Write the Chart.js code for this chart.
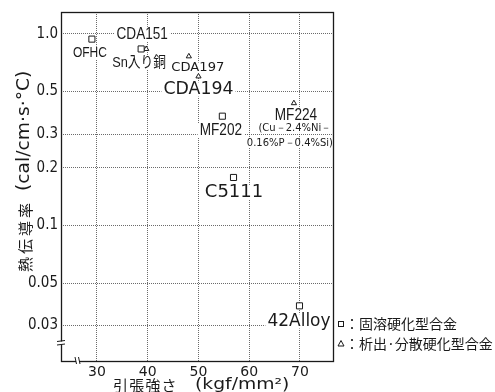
<!DOCTYPE html>
<html><head><meta charset="utf-8">
<script src="https://cdn.jsdelivr.net/npm/chart.js@4/dist/chart.umd.min.js"></script>
<style>html,body{margin:0;padding:0;background:#fff}canvas{display:block}</style>
</head><body>
<canvas id="c" width="495" height="392"></canvas>
<script>
// ---- data ----
const squareNames = ['OFHC', 'Sn入り銅', 'MF202', 'C5111', '42Alloy'];
const squareStrength = [29.0, 38.7, 54.7, 56.9, 69.9];
const squareConductivity = [0.94, 0.835, 0.372, 0.178, 0.038];
const triangleNames = ['CDA151', 'CDA197', 'CDA194', 'MF224'];
const triangleStrength = [39.7, 48.1, 50.0, 68.8];
const triangleConductivity = [0.835, 0.764, 0.60, 0.435];
const mf224Note = ['(Cu－2.4%Ni－', '0.16%P－0.4%Si)'];
const xTicks = [30, 40, 50, 60, 70];
const yTicks = [0.03, 0.05, 0.1, 0.2, 0.3, 0.5, 1.0];
const legendLabels = ['：固溶硬化型合金', '：析出·分散硬化型合金'];
const xTitle = ['引張強さ', '(kgf/mm²)'];
const yTitle = ['熱伝導率', '(cal/cm·s·°C)'];

// ---- styles ----
const COND = '"DejaVu Sans Condensed","DejaVu Sans",sans-serif';
const LIB = '"Liberation Sans",sans-serif';
const WIDE = '"DejaVu Sans",sans-serif';
const CJK = '"Noto Sans CJK JP",sans-serif';
const INK = '#1a1a1a';
const labelStyle = {
  'OFHC':    {dx: -2,  dy: 14,   font: '15px ' + LIB, sx: 0.8},
  'Sn入り銅': {dx: -2,  dy: 14,   font: '15px "Liberation Sans","Noto Sans CJK JP",sans-serif', sx: 0.85},
  'MF202':   {dx: -1.5,dy: 14.5, font: '17px ' + LIB, sx: 0.8},
  'C5111':   {dx: 0.5, dy: 15,   font: '18px ' + WIDE, sx: 1},
  '42Alloy': {dx: -0.5,dy: 15.5, font: '17px ' + WIDE, sx: 1},
  'CDA151':  {dx: -4,  dy: -15,  font: '17px ' + LIB, sx: 0.8},
  'CDA197':  {dx: 9,   dy: 11.5, font: '12.5px ' + WIDE, sx: 1.05},
  'CDA194':  {dx: 0,   dy: 13,   font: '17px ' + WIDE, sx: 1.02},
  'MF224':   {dx: 2,   dy: 12.5, font: '17px ' + LIB, sx: 0.8}
};
const noteStyle = [{dx: 1, dy: 25.5}, {dx: -4, dy: 40.5}];

function pts(xs, ys) { return xs.map((x, i) => ({x: x, y: ys[i]})); }

function drawLabel(ctx, text, x, y, font, sx) {
  ctx.save();
  ctx.font = font;
  const w = ctx.measureText(text).width * sx;
  const fs = parseFloat(font);
  ctx.fillStyle = '#fff';
  ctx.fillRect(x - w / 2 - 2, y - fs * 0.42, w + 4, fs * 0.84);
  ctx.translate(x, y);
  ctx.scale(sx, 1);
  ctx.fillStyle = INK;
  ctx.textAlign = 'center';
  ctx.textBaseline = 'middle';
  ctx.fillText(text, 0, 0);
  ctx.restore();
}

const annotate = {
  id: 'annotate',
  beforeDatasetsDraw(chart) {
    const ctx = chart.ctx;
    const groups = [[0, squareNames], [1, triangleNames]];
    for (const [di, names] of groups) {
      const meta = chart.getDatasetMeta(di);
      names.forEach((n, i) => {
        const el = meta.data[i];
        const s = labelStyle[n];
        drawLabel(ctx, n, el.x + s.dx, el.y + s.dy, s.font, s.sx);
        if (n === 'MF224') {
          mf224Note.forEach((t, k) => drawLabel(ctx, t, el.x + noteStyle[k].dx, el.y + noteStyle[k].dy, '10px ' + WIDE, 1));
        }
      });
    }
  },
  afterDraw(chart) {
    const ctx = chart.ctx;
    const a = chart.chartArea;
    ctx.save();
    // frame
    ctx.strokeStyle = INK;
    ctx.lineWidth = 1.3;
    ctx.strokeRect(a.left + 0.5, a.top + 0.5, a.right - a.left - 1, a.bottom - a.top - 1);
    // axis breaks
    ctx.fillStyle = '#fff';
    ctx.fillRect(a.left - 1, 341.5, 3, 3);
    ctx.fillRect(76, a.bottom - 2, 3, 3);
    ctx.lineWidth = 1;
    ctx.beginPath();
    ctx.moveTo(a.left - 4, 341.5); ctx.lineTo(a.left + 4, 340.5);
    ctx.moveTo(a.left - 4, 345); ctx.lineTo(a.left + 4, 344);
    ctx.moveTo(75, a.bottom - 5); ctx.lineTo(76.5, a.bottom + 2);
    ctx.moveTo(78.5, a.bottom - 5); ctx.lineTo(80, a.bottom + 2);
    ctx.stroke();
    // legend
    ctx.lineWidth = 1;
    ctx.strokeRect(338.5, 321.5, 5, 5);
    ctx.beginPath();
    ctx.moveTo(341, 340.5); ctx.lineTo(344, 346); ctx.lineTo(338, 346); ctx.closePath();
    ctx.stroke();
    ctx.fillStyle = INK;
    ctx.textAlign = 'left';
    ctx.textBaseline = 'middle';
    ctx.font = '14px ' + CJK;
    ctx.fillText(legendLabels[0], 345, 324);
    ctx.fillText(legendLabels[1], 345, 344);
    // x title
    ctx.font = '15px ' + CJK;
    let x0 = 113;
    for (const ch of xTitle[0]) { ctx.fillText(ch, x0, 385); x0 += 16.2; }
    ctx.save();
    ctx.translate(195, 385);
    ctx.scale(1.25, 1);
    ctx.font = '15px ' + WIDE;
    ctx.fillText(xTitle[1], 0, 0);
    ctx.restore();
    // y title (rotated)
    ctx.save();
    ctx.translate(25, 0);
    ctx.rotate(-Math.PI / 2);
    ctx.font = '15px ' + CJK;
    let u = -272;
    for (const ch of yTitle[0]) { ctx.fillText(ch, u, 0); u += 18; }
    ctx.translate(-191, 0);
    ctx.scale(1.1, 1);
    ctx.font = '17px ' + WIDE;
    ctx.fillText(yTitle[1], 0, 0);
    ctx.restore();
    ctx.restore();
  }
};

const gridStyle = {color: 'rgba(70,70,70,0.8)', lineWidth: 1, drawTicks: false};

new Chart(document.getElementById('c'), {
  type: 'scatter',
  data: {
    datasets: [
      {label: '固溶硬化型合金', data: pts(squareStrength, squareConductivity), pointStyle: 'rect',
       pointRadius: 4.3, borderColor: INK, backgroundColor: '#fff', borderWidth: 1},
      {label: '析出・分散硬化型合金', data: pts(triangleStrength, triangleConductivity), pointStyle: 'triangle',
       pointRadius: 3, borderColor: INK, backgroundColor: '#fff', borderWidth: 1}
    ]
  },
  options: {
    responsive: false,
    devicePixelRatio: 1,
    animation: false,
    events: [],
    layout: {padding: {left: 0, top: 11, right: 161, bottom: 0}},
    plugins: {legend: {display: false}, tooltip: {enabled: false}},
    scales: {
      x: {
        type: 'linear', min: 22.91, max: 76.7,
        afterBuildTicks: s => { s.ticks = xTicks.map(v => ({value: v})); },
        afterFit: s => { s.height = 30; },
        grid: {...gridStyle},
        border: {display: false, dash: [1, 1]},
        ticks: {color: INK, font: {family: WIDE, size: 14}, padding: 2, autoSkip: false, maxRotation: 0}
      },
      y: {
        type: 'logarithmic', min: 0.01934, max: 1.3024,
        afterBuildTicks: s => { s.ticks = yTicks.map(v => ({value: v})); },
        afterFit: s => { s.width = 61; },
        grid: {...gridStyle},
        border: {display: false, dash: [1, 1]},
        ticks: {color: INK, font: {family: COND, size: 15}, padding: 3, autoSkip: false,
                callback: v => (v === 1 ? '1.0' : String(v))}
      }
    }
  },
  plugins: [annotate]
});
</script>
</body></html>
